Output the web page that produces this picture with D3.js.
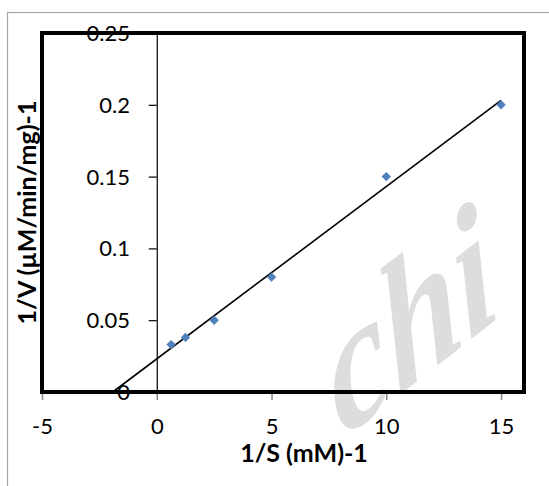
<!DOCTYPE html>
<html>
<head>
<meta charset="utf-8">
<script src="https://cdnjs.cloudflare.com/ajax/libs/d3/7.8.5/d3.min.js"></script>
<style>
  html, body { margin: 0; padding: 0; background: #fff; }
  svg { display: block; }
</style>
</head>
<body>
<svg id="chart" width="549" height="486"></svg>
<script>
// Lineweaver-Burk data: reciprocal substrate concentration vs reciprocal velocity
const sInv = [0.625, 1.25, 2.5, 5, 10, 15];
const vInv = [0.033, 0.038, 0.05, 0.08, 0.15, 0.2];

const xTicks = [-5, 0, 5, 10, 15];
const xTickLabels = ["-5", "0", "5", "10", "15"];
const yTicks = [0, 0.05, 0.1, 0.15, 0.2, 0.25];
const yTickLabels = ["0", "0.05", "0.1", "0.15", "0.2", "0.25"];
const xTitle = "1/S (mM)-1";
const yTitle = "1/V (\u00B5M/min/mg)-1";

// linear trendline, extended backwards toward the x-intercept
const trendBackward = 2.5;

const svg = d3.select("#chart");
const font = "Lato, 'Open Sans', sans-serif";

const plot = { left: 42, right: 524, top: 33, bottom: 392 };

const x = d3.scaleLinear().domain([-5, 16]).range([plot.left, plot.right]);
const y = d3.scaleLinear().domain([0, 0.25]).range([plot.bottom, plot.top]);

// outer chart frame
svg.append("rect")
  .attr("x", 7.5).attr("y", 12.5)
  .attr("width", 700).attr("height", 700)
  .attr("fill", "#fff")
  .attr("stroke", "#a6a6a6").attr("stroke-width", 1.2);

// faint watermark lettering over the lower right corner
svg.append("text")
  .attr("transform", "translate(342,440) rotate(-38) skewX(-24)")
  .attr("font-family", "'Liberation Serif', serif")
  .attr("font-style", "italic")
  .attr("font-weight", "bold")
  .attr("font-size", 160)
  .attr("fill", "rgb(182,182,182)")
  .attr("fill-opacity", 0.47)
  .text("chi");

// vertical axis at x = 0 with ticks on its left
const yAxis = d3.axisLeft(y)
  .tickValues(yTicks)
  .tickSize(8)
  .tickFormat("");

const gy = svg.append("g")
  .attr("transform", `translate(${x(0)},0)`)
  .call(yAxis);
gy.select(".domain").attr("stroke", "#000").attr("stroke-width", 1.2);
gy.selectAll(".tick line").attr("stroke", "#000").attr("stroke-width", 1.2);

// y tick labels sit at the left side of the plot
svg.append("g").selectAll("text")
  .data(yTicks)
  .join("text")
  .attr("x", 130)
  .attr("y", d => y(d))
  .attr("dy", "0.36em")
  .attr("text-anchor", "end")
  .attr("font-family", font)
  .attr("font-size", 22)
  .attr("fill", "#000")
  .text((d, i) => yTickLabels[i]);

// horizontal axis along y = 0
const xAxis = d3.axisBottom(x)
  .tickValues(xTicks)
  .tickSize(8)
  .tickFormat((d, i) => xTickLabels[i]);

const gx = svg.append("g")
  .attr("transform", `translate(0,${y(0)})`)
  .call(xAxis);
gx.select(".domain").remove();
gx.selectAll(".tick line").attr("stroke", "#888").attr("stroke-width", 1.5);
gx.selectAll(".tick text")
  .attr("y", 42)
  .attr("dy", 0)
  .attr("font-family", font)
  .attr("font-size", 22)
  .attr("fill", "#000");

// least squares fit through the points
const mx = d3.mean(sInv), my = d3.mean(vInv);
const sxy = d3.sum(sInv, (d, i) => (d - mx) * (vInv[i] - my));
const sxx = d3.sum(sInv, d => (d - mx) * (d - mx));
const slope = sxy / sxx;
const intercept = my - slope * mx;
const x0 = d3.min(sInv) - trendBackward, x1 = d3.max(sInv);

svg.append("line")
  .attr("x1", x(x0)).attr("y1", y(intercept + slope * x0))
  .attr("x2", x(x1)).attr("y2", y(intercept + slope * x1))
  .attr("stroke", "#000").attr("stroke-width", 1.6);

// data markers (diamonds)
svg.append("g").selectAll("path")
  .data(sInv.map((d, i) => [d, vInv[i]]))
  .join("path")
  .attr("d", d3.symbol(d3.symbolSquare, 44))
  .attr("transform", d => `translate(${x(d[0])},${y(d[1])}) rotate(45)`)
  .attr("fill", "#4f81bd");

// plot area frame
svg.append("rect")
  .attr("x", plot.left).attr("y", plot.top)
  .attr("width", plot.right - plot.left)
  .attr("height", plot.bottom - plot.top)
  .attr("fill", "none")
  .attr("stroke", "#000").attr("stroke-width", 4);

// axis titles
svg.append("text")
  .attr("x", 304).attr("y", 462)
  .attr("text-anchor", "middle")
  .attr("font-family", font)
  .attr("font-weight", "bold")
  .attr("font-size", 25)
  .attr("fill", "#000")
  .text(xTitle);

svg.append("text")
  .attr("transform", `translate(36,${(plot.top + plot.bottom) / 2}) rotate(-90)`)
  .attr("text-anchor", "middle")
  .attr("font-family", font)
  .attr("font-weight", "bold")
  .attr("font-size", 25)
  .attr("fill", "#000")
  .text(yTitle);
</script>
</body>
</html>
